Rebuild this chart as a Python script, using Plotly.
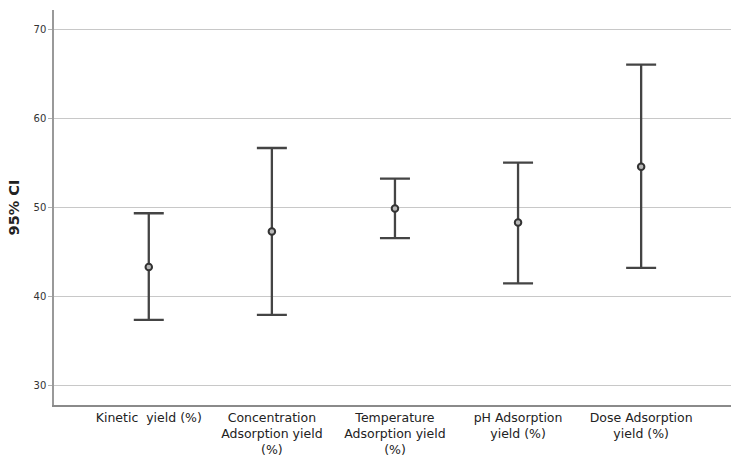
import plotly.graph_objects as go

categories = ["Kinetic  yield (%)",
              "Concentration<br>Adsorption yield<br>(%)",
              "Temperature<br>Adsorption yield<br>(%)",
              "pH Adsorption<br>yield (%)",
              "Dose Adsorption<br>yield (%)"]
means = [43.3, 47.3, 49.9, 48.3, 54.6]
upper = [49.35, 56.7, 53.25, 55.05, 66.1]
lower = [37.35, 37.9, 46.55, 41.45, 43.2]
y_ticks = [30, 40, 50, 60, 70]

x = list(range(len(categories)))
err_plus = [u - m for u, m in zip(upper, means)]
err_minus = [m - l for m, l in zip(means, lower)]

fig = go.Figure()
fig.add_trace(go.Scatter(
    x=x, y=means, mode="markers",
    marker=dict(symbol="circle", size=6.5, color="#b8b8b8",
                line=dict(color="#333333", width=2)),
    error_y=dict(type="data", symmetric=False, array=err_plus,
                 arrayminus=err_minus, color="#444444", thickness=2.3, width=15),
    showlegend=False,
))

fig.update_layout(
    width=731, height=457,
    margin=dict(l=54, r=0, t=10, b=50),
    paper_bgcolor="white", plot_bgcolor="white",
    font=dict(family="DejaVu Sans, sans-serif", color="#222222"),
    xaxis=dict(
        range=[-0.77, 4.73], tickmode="array", tickvals=x, ticktext=categories,
        showgrid=False, zeroline=False, showline=True, linecolor="#8a8a8a",
        linewidth=1.8, ticks="", tickfont=dict(size=12.5, color="#222222"),
    ),
    yaxis=dict(
        range=[27.76, 72.24], tickmode="array", tickvals=y_ticks,
        showgrid=True, gridcolor="#c8c8c8", gridwidth=1, zeroline=False,
        showline=True, linecolor="#999999", linewidth=1.5,
        ticks="outside", ticklen=4, tickcolor="#b0b0b0",
        tickfont=dict(size=10, color="#333333"),
        title=dict(text="<b>95% CI</b>", font=dict(size=14.5, color="#222222"), standoff=10),
    ),
)

fig.write_html("out.html")
